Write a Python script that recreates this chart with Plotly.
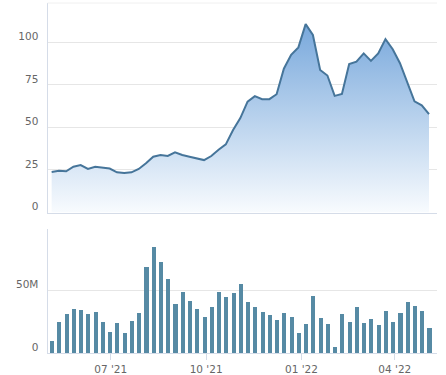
import pandas as pd
import plotly.graph_objects as go
from plotly.subplots import make_subplots

# Weekly dates (one point per week)
dates = pd.date_range("2021-05-05", periods=53, freq="7D")

price = [23.8, 24.5, 24.2, 26.9, 27.9, 25.6, 26.9, 26.3, 25.8, 23.6,
         23.2, 23.6, 25.6, 28.9, 32.8, 33.8, 33.2, 35.4, 33.8, 32.8,
         31.6, 30.8, 33.2, 36.9, 40.0, 48.5, 55.5, 65.1, 68.4, 66.6,
         66.6, 69.5, 84.5, 92.7, 97.0, 110.7, 104.3, 83.7, 80.5, 68.5,
         69.6, 87.2, 88.6, 93.5, 89.1, 93.5, 101.9, 95.9, 87.7, 76.5,
         65.3, 63.0, 57.8]

volume_m = [9.9, 25.1, 31.6, 35.6, 34.8, 31.6, 33.2, 25.1, 17.1, 24.3,
            16.3, 25.9, 32.4, 69.3, 85.3, 73.3, 59.6, 39.6, 49.2, 42.0,
            35.6, 29.1, 37.2, 49.2, 45.2, 48.4, 55.6, 41.2, 37.2, 33.2,
            30.7, 26.7, 32.4, 29.1, 16.3, 23.5, 46.0, 28.3, 23.5, 5.1,
            31.6, 25.1, 37.2, 24.3, 27.5, 22.7, 34.0, 25.1, 32.4, 41.2,
            38.0, 34.0, 20.3]
volume = [v * 1e6 for v in volume_m]

x_tickvals = ["2021-07-01", "2021-10-01", "2022-01-01", "2022-04-01"]
x_ticktext = ["07 '21", "10 '21", "01 '22", "04 '22"]
price_ticks = [0, 25, 50, 75, 100]
price_ticktext = ["0", "25", "50", "75", "100"]
vol_ticks = [0, 50e6, 100e6]
vol_ticktext = ["0", "50M", ""]

LINE = "#46759a"
BAR = "#568aa4"
GRID = "#e6e6e6"
AXIS = "#d5dce8"
FONT = dict(family="DejaVu Sans", size=10.5, color="#666666")

fig = make_subplots(rows=2, cols=1, shared_xaxes=False)

fig.add_trace(go.Scatter(
    x=dates, y=price, mode="lines",
    line=dict(color=LINE, width=2),
    fill="tozeroy",
    fillgradient=dict(type="vertical", start=0, stop=123,
                      colorscale=[[0, "#f8fbfe"], [1, "#6a9fd8"]]),
    hoverinfo="x+y", showlegend=False), row=1, col=1)

fig.add_trace(go.Bar(
    x=dates, y=volume, marker=dict(color=BAR, line=dict(width=0)),
    width=3.9 * 86400000, showlegend=False), row=2, col=1)

xrange = ["2021-05-01 00:00", "2022-05-11 17:00"]
xdom = [47.5 / 446, 437 / 446]

fig.update_layout(
    width=446, height=375,
    margin=dict(l=0, r=0, t=0, b=0, autoexpand=False),
    paper_bgcolor="white", plot_bgcolor="white",
    font=FONT,
    xaxis=dict(domain=xdom, range=xrange, type="date", showticklabels=False,
               showgrid=False, showline=True, linecolor=AXIS, linewidth=1,
               ticks="", zeroline=False, automargin=False),
    yaxis=dict(domain=[1 - 212.5 / 375, 1 - 3 / 375], range=[0, 123.1],
               tickvals=price_ticks, ticktext=price_ticktext,
               showgrid=True, gridcolor=GRID, gridwidth=1,
               showline=True, linecolor=AXIS, linewidth=1,
               zeroline=False, ticks="", ticklabelstandoff=6,
               ticklabelshift=-6, automargin=False),
    xaxis2=dict(domain=xdom, range=xrange, type="date",
                tickvals=x_tickvals, ticktext=x_ticktext,
                showgrid=False, showline=True, linecolor=AXIS, linewidth=1,
                ticks="outside", ticklen=6, tickcolor=AXIS, tickwidth=1,
                zeroline=False, automargin=False),
    yaxis2=dict(domain=[1 - 353 / 375, 1 - 228.5 / 375], range=[0, 100e6],
                tickvals=vol_ticks, ticktext=vol_ticktext,
                showgrid=True, gridcolor=GRID, gridwidth=1,
                showline=True, linecolor=AXIS, linewidth=1,
                zeroline=False, ticks="", ticklabelstandoff=6,
                ticklabelshift=-6, automargin=False),
    bargap=0,
)

# faint top border of the price panel
fig.add_shape(type="line", xref="x domain", yref="y domain",
              x0=0, x1=1, y0=1, y1=1, line=dict(color="#f0f0f0", width=1))

fig.write_html("out.html")
